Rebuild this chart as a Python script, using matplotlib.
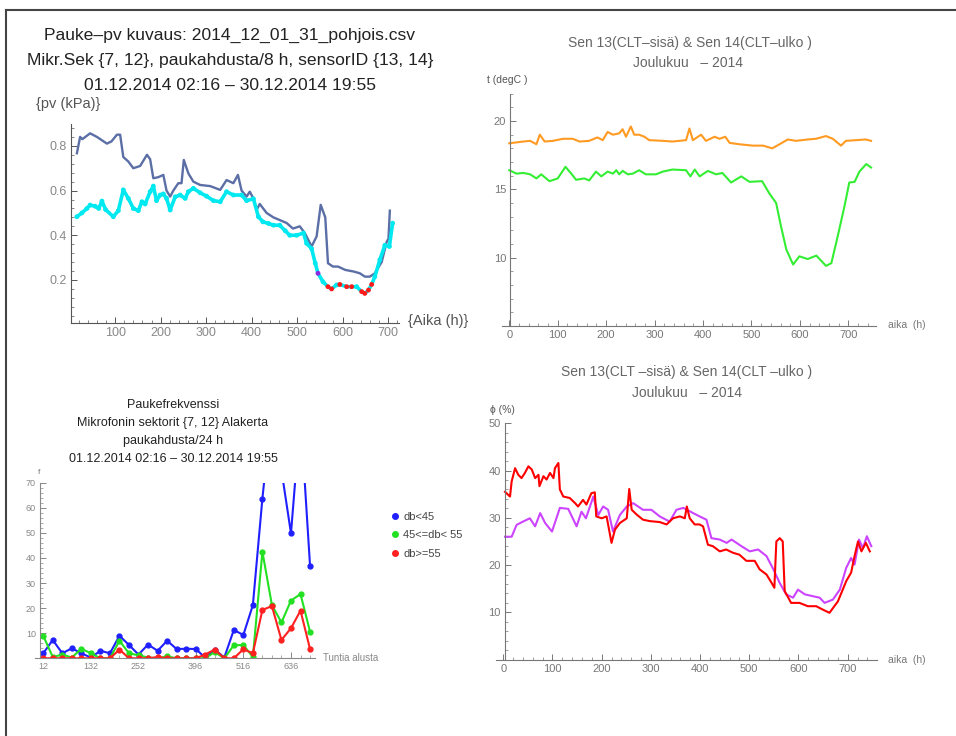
import matplotlib
matplotlib.use('Agg')
import matplotlib.pyplot as plt
from matplotlib.lines import Line2D
from matplotlib.ticker import MultipleLocator, FixedLocator

plt.rcParams['font.family'] = ['Liberation Sans', 'DejaVu Sans']

# --- top left: pv (kPa) vs hours
pv_blue_h = [16, 23, 28, 45, 60, 82, 92, 104, 111, 118, 129, 140, 155, 170, 177, 184, 195, 206, 213, 221,
             228, 239, 246, 251, 261, 272, 287, 309, 331, 345, 360, 370, 378, 389, 396, 404, 411, 418, 433, 448,
             462, 477, 491, 506, 517, 532, 543, 552, 562, 568, 579, 590, 606, 624, 638, 649, 660, 671, 686, 697,
             701, 704]
pv_blue = [.767, .84, .83, .856, .84, .81, .82, .85, .85, .75, .73, .70, .71, .76, .74, .655, .66, .67, .60, .573,
           .60, .633, .633, .737, .677, .64, .625, .62, .603, .647, .633, .67, .60, .573, .595, .565, .513, .54, .50, .48,
           .468, .455, .43, .44, .41, .35, .395, .536, .48, .275, .26, .26, .245, .238, .23, .215, .215, .23, .28, .37,
           .385, .51]
pv_cyan_h = [16, 27, 38, 45, 56, 64, 71, 79, 96, 107, 118, 129, 140, 151, 159, 166, 177, 184, 191, 199,
             206, 213, 221, 232, 243, 254, 261, 272, 287, 301, 316, 331, 345, 360, 378, 389, 404, 415, 425, 437,
             448, 462, 474, 484, 499, 514, 521, 532, 540, 546, 557, 568, 576, 587, 594, 609, 620, 631, 642, 649,
             657, 664, 671, 682, 693, 703, 710]
pv_cyan = [.483, .50, .52, .535, .53, .52, .553, .515, .483, .51, .603, .565, .52, .51, .55, .54, .595, .62, .555, .58,
           .585, .565, .513, .572, .58, .565, .595, .61, .59, .575, .555, .55, .595, .58, .58, .555, .563, .483, .46, .453,
           .445, .445, .42, .40, .40, .41, .364, .34, .275, .23, .192, .17, .16, .178, .18, .17, .17, .17, .148, .14,
           .155, .18, .215, .29, .355, .35, .454]
# crack class of each point (0 few, 1 many, 2 middle)
pv_class = [0] * 49 + [2, 0, 1, 1, 0, 1, 1, 1, 0, 1, 1, 1, 1, 0, 0, 0, 0, 0]

# --- top right: temperature
t13_h = [0, 29, 43, 56, 63, 73, 90, 111, 131, 145, 165, 182, 193, 203, 214, 227, 234, 241, 251, 258,
         268, 279, 289, 317, 337, 365, 372, 379, 396, 406, 424, 434, 446, 455, 475, 503, 524, 543, 558, 575,
         592, 616, 633, 654, 668, 685, 695, 716, 736, 747]
t13 = [18.37, 18.5, 18.55, 18.3, 19.0, 18.5, 18.55, 18.7, 18.7, 18.5, 18.55, 18.8, 18.6, 19.2, 19.0, 19.1, 19.4,
       18.85, 19.6, 19.0, 19.0, 18.85, 18.6, 18.55, 18.5, 18.6, 19.45, 18.6, 19.0, 18.55, 18.85, 18.7, 18.85, 18.4,
       18.3, 18.2, 18.2, 18.0, 18.3, 18.65, 18.55, 18.65, 18.7, 18.9, 18.7, 18.2, 18.55, 18.6, 18.65, 18.55]
t14_h = [0, 15, 29, 43, 56, 66, 76, 83, 100, 116, 128, 138, 155, 165, 179, 190, 203, 214, 221, 227,
         234, 245, 255, 268, 282, 303, 317, 337, 365, 374, 383, 393, 410, 427, 440, 458, 479, 496, 522, 537,
         551, 561, 572, 586, 599, 616, 634, 654, 665, 678, 692, 702, 713, 723, 737, 747]
t14 = [16.4, 16.15, 16.2, 16.1, 15.8, 16.1, 15.8, 15.6, 15.8, 16.65, 16.15, 15.7, 15.8, 15.65, 16.3, 15.95, 16.3,
       16.15, 16.4, 16.1, 16.35, 16.1, 16.15, 16.4, 16.1, 16.1, 16.3, 16.45, 16.4, 15.95, 16.45, 15.95, 16.35, 16.1,
       16.2, 15.5, 15.95, 15.55, 15.6, 14.7, 14.0, 12.3, 10.6, 9.5, 10.1, 9.9, 10.15, 9.4, 9.6, 11.55, 13.75, 15.5,
       15.55, 16.3, 16.85, 16.6]

# --- bottom left: crack frequency per 24 h
freq_h = [12, 36, 60, 84, 108, 132, 156, 180, 204, 228, 252, 276, 300, 324, 348, 372, 396, 420, 444, 468,
          492, 516, 540, 564, 588, 612, 636, 660, 684]
f_low = [2, 7.3, 2, 4, 2, 0.3, 3, 2, 9, 5.3, 1.5, 5.5, 3, 7, 3.7, 3.8, 3.7, 0.3, 3.5, 0.3,
         11.3, 9.3, 21.2, 63.7, 100, 75, 49.8, 97, 36.9]
f_mid = [9, 0.5, 1.5, 0.3, 3.8, 2, 0, 0, 7, 2, 1.2, 0.3, 0, 0.8, 0, 0, 0, 0, 2.5, 0,
         5.2, 5.3, 0.5, 42.5, 21.2, 14.3, 23, 25.6, 10.6]
f_high = [0, 0, 0, 0, 0, 0, 0, 0, 3.5, 0, 0, 0, 0.5, 0, 0, 0, 0, 1.5, 3.5, 0,
          0, 3.6, 2, 19.3, 20.8, 7.3, 12, 19, 3.7]
freq_labels = ['db<45', '45<=db< 55', 'db>=55']
freq_ticks = [12, 132, 252, 396, 516, 636]

# --- bottom right: relative humidity
rh1_h = [3.5, 13.7, 17, 24, 30.5, 37, 44, 51, 58, 64.7, 71.5, 73.5, 81.6, 88, 95, 102, 105, 112, 115, 122,
         135, 146, 152, 162, 169, 179, 186, 189, 200, 210, 220, 227, 237, 251, 256, 261, 271, 284, 298, 318,
         332, 345, 359, 369, 373, 379, 389, 399, 406, 416, 426, 440, 453, 467, 480, 494, 511, 521, 535, 545,
         551, 555, 562, 568, 572, 585, 602, 619, 636, 649, 663, 680, 690, 697, 707, 714, 721, 728, 737, 745]
rh1 = [35.5, 34.5, 37.7, 40.5, 39.1, 38.4, 39.5, 40.9, 40.2, 38.4, 39.1, 36.7, 38.8, 38.1, 39.5, 38.4, 40.5, 41.6,
       36, 34.5, 34.2, 33.1, 32.4, 33.8, 32.8, 35.2, 35.4, 30.3, 29.9, 30.3, 24.7, 27.5, 28.9, 29.9, 36.1, 31.7,
       30.7, 29.6, 29.3, 29.1, 28.6, 29.9, 30.3, 29.9, 32.4, 29.9, 28.6, 28.6, 28.2, 24.3, 24.0, 22.9, 23.3, 22.6,
       22.2, 20.9, 20.9, 19.1, 18.0, 16.3, 15.2, 25.0, 25.7, 25.0, 14.5, 12.0, 12.0, 11.3, 11.3, 10.6, 9.9, 12.3,
       14.8, 16.6, 18.4, 21.9, 25.0, 22.9, 24.7, 22.9]
rh2_h = [3.5, 17, 27, 40, 54, 64.7, 75, 85, 99, 115, 132, 149, 159, 168, 183, 193, 203, 213, 223, 237,
         251, 264, 284, 301, 318, 338, 352, 366, 386, 399, 413, 423, 440, 454, 464, 484, 501, 518, 535, 549,
         562, 575, 589, 599, 613, 630, 643, 653, 670, 684, 697, 707, 714, 723, 731, 739, 748]
rh2 = [26.0, 26.0, 28.5, 29.2, 29.9, 28.2, 31.0, 28.9, 27.1, 32.1, 31.9, 28.2, 31.3, 29.9, 34.5, 30.6, 32.4, 31.7,
       27.1, 30.6, 32.4, 33.1, 31.7, 31.7, 30.3, 29.2, 31.7, 32.1, 31.0, 30.3, 29.6, 25.7, 25.4, 24.7, 25.4, 24.0,
       22.9, 23.3, 21.9, 19.1, 16.2, 13.8, 13.1, 14.8, 13.8, 13.4, 13.1, 12.0, 12.7, 14.8, 19.4, 21.5, 20.1, 25.4,
       23.6, 26.1, 24.0]

W, H = 956, 736


def box(l, t, r, b):
    # pixel box -> figure fraction rect
    return [l / W, 1 - b / H, (r - l) / W, (b - t) / H]


def txt(fig, x, y, s, **kw):
    fig.text(x / W, 1 - y / H, s, **kw)


def style(ax, col, lcol, size):
    for s in ['top', 'right']:
        ax.spines[s].set_visible(False)
    for s in ['left', 'bottom']:
        ax.spines[s].set_color(col)
        ax.spines[s].set_linewidth(0.8)
    ax.tick_params(which='major', direction='in', length=4, width=0.7, color=col,
                   labelcolor=lcol, labelsize=size, pad=3)
    ax.tick_params(which='minor', direction='in', length=2, width=0.5, color=col)


fig = plt.figure(figsize=(W / 100, H / 100), dpi=100)

# frame
fig.add_artist(Line2D([6 / W, 1], [1 - 10 / H] * 2, transform=fig.transFigure, color='#444444', lw=1.5))
fig.add_artist(Line2D([6 / W] * 2, [0, 1 - 10 / H], transform=fig.transFigure, color='#444444', lw=1.5))

# top left
ax1 = fig.add_axes(box(71, 123.5, 399.4, 322.9))
ax1.plot(pv_blue_h, pv_blue, color='#5b6fa6', lw=1.7)
ax1.plot(pv_cyan_h, pv_cyan, color='#00e8f0', lw=2.6, solid_capstyle='round')
cls_col = {0: '#00e8f0', 1: '#ff1a1a', 2: '#8a2be2'}
ax1.scatter(pv_cyan_h, pv_cyan, c=[cls_col[c] for c in pv_class], s=12, zorder=3, linewidths=0)
ax1.set_xlim(3, 725)
ax1.set_ylim(0.008, 0.9)
ax1.xaxis.set_major_locator(FixedLocator([100, 200, 300, 400, 500, 600, 700]))
ax1.xaxis.set_minor_locator(MultipleLocator(20))
ax1.yaxis.set_major_locator(FixedLocator([0.2, 0.4, 0.6, 0.8]))
ax1.yaxis.set_minor_locator(MultipleLocator(0.04))
style(ax1, '#555555', '#888888', 9)

txt(fig, 230, 35, 'Pauke\u2013pv kuvaus: 2014_12_01_31_pohjois.csv', ha='center', va='center', fontsize=12.6, color='#222222')
txt(fig, 230, 61, 'Mikr.Sek {7, 12}, paukahdusta/8 h, sensorID {13, 14}', ha='center', va='center', fontsize=12.6, color='#222222')
txt(fig, 230, 85, '01.12.2014 02:16 \u2013 30.12.2014 19:55', ha='center', va='center', fontsize=12.6, color='#222222')
txt(fig, 68, 104, '{pv (kPa)}', ha='center', va='center', fontsize=10.5, color='#555555')
txt(fig, 438, 321, '{Aika (h)}', ha='center', va='center', fontsize=10.5, color='#555555')

# top right
ax2 = fig.add_axes(box(502.5, 93.7, 876.4, 326))
ax2.plot(t13_h, t13, color='#ff9a22', lw=1.5)
ax2.plot(t14_h, t14, color='#33ee33', lw=1.5)
ax2.set_xlim(-14, 758)
ax2.set_ylim(5, 22)
ax2.spines['left'].set_position(('data', 2))
ax2.xaxis.set_major_locator(MultipleLocator(100))
ax2.xaxis.set_minor_locator(MultipleLocator(20))
ax2.yaxis.set_major_locator(FixedLocator([10, 15, 20]))
ax2.yaxis.set_minor_locator(MultipleLocator(1))
style(ax2, '#777777', '#777777', 8)
txt(fig, 690, 43, 'Sen 13(CLT\u2013sis\u00e4) & Sen 14(CLT\u2013ulko )', ha='center', va='center', fontsize=10, color='#666666')
txt(fig, 688, 63, 'Joulukuu   \u2013 2014', ha='center', va='center', fontsize=10, color='#666666')
txt(fig, 487, 80, 't (degC )', ha='left', va='center', fontsize=7.5, color='#555555')
txt(fig, 888, 325, 'aika  (h)', ha='left', va='center', fontsize=7.5, color='#777777')

# bottom left
ax3 = fig.add_axes(box(34.9, 482.7, 315.2, 658.3))
cols3 = ['#2020ff', '#22e022', '#ff2020']
for vals, col in zip([f_low, f_mid, f_high], cols3):
    ax3.plot(freq_h, vals, color=col, lw=1.5, marker='o', ms=3.5)
ax3.set_xlim(-9, 697)
ax3.set_ylim(0, 70)
ax3.spines['left'].set_position(('data', 4))
ax3.xaxis.set_major_locator(FixedLocator(freq_ticks))
ax3.xaxis.set_minor_locator(MultipleLocator(24, offset=12))
ax3.yaxis.set_major_locator(FixedLocator([10, 20, 30, 40, 50, 60, 70]))
ax3.yaxis.set_minor_locator(MultipleLocator(2))
style(ax3, '#888888', '#888888', 6.5)
handles = [Line2D([], [], ls='none', marker='o', ms=4, color=c) for c in cols3]
fig.legend(handles, freq_labels, loc='upper left', bbox_to_anchor=(379 / W, 1 - 502 / H), frameon=False,
           fontsize=8, handletextpad=0.3, labelspacing=0.75, handlelength=1.0, labelcolor='#444444')
for i, s in enumerate(['Paukefrekvenssi', 'Mikrofonin sektorit {7, 12} Alakerta', 'paukahdusta/24 h',
                       '01.12.2014 02:16 \u2013 30.12.2014 19:55']):
    txt(fig, 173, 405 + 18 * i, s, ha='center', va='center', fontsize=9, color='#222222')
txt(fig, 39, 472, 'f', ha='center', va='center', fontsize=6, color='#777777')
txt(fig, 323, 658, 'Tuntia alusta', ha='left', va='center', fontsize=7, color='#888888')

# bottom right
ax4 = fig.add_axes(box(496.4, 423.3, 876.7, 659.6))
ax4.plot(rh2_h, rh2, color='#cc44ff', lw=1.5)
ax4.plot(rh1_h, rh1, color='#ff0000', lw=1.5)
ax4.set_xlim(-14, 759)
ax4.set_ylim(0, 50)
ax4.spines['left'].set_position(('data', 3))
ax4.xaxis.set_major_locator(MultipleLocator(100))
ax4.xaxis.set_minor_locator(MultipleLocator(20))
ax4.yaxis.set_major_locator(FixedLocator([10, 20, 30, 40, 50]))
ax4.yaxis.set_minor_locator(MultipleLocator(2))
style(ax4, '#777777', '#777777', 8)
txt(fig, 687, 372, 'Sen 13(CLT \u2013sis\u00e4) & Sen 14(CLT \u2013ulko )', ha='center', va='center', fontsize=10, color='#666666')
txt(fig, 687, 393, 'Joulukuu   \u2013 2014', ha='center', va='center', fontsize=10, color='#666666')
txt(fig, 490, 410, '\u03d5 (%)', ha='left', va='center', fontsize=7.5, color='#555555')
txt(fig, 888, 660, 'aika  (h)', ha='left', va='center', fontsize=7.5, color='#777777')

fig.savefig('out.png', dpi=100)
